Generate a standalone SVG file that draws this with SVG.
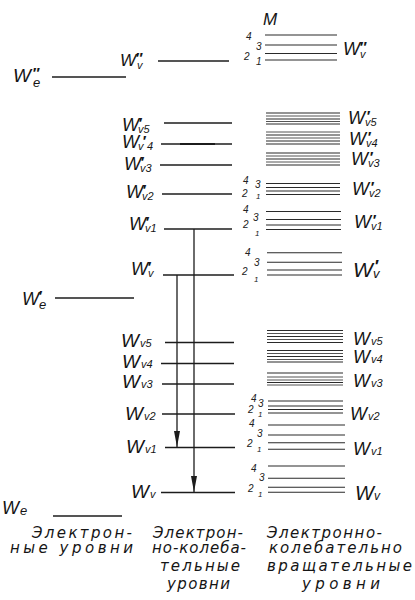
<svg xmlns="http://www.w3.org/2000/svg" width="415" height="600" viewBox="0 0 415 600">
<style>
.bg{fill:#fff}
.lv{stroke:#1c1c1c;stroke-width:1.3;fill:none}
.rl{stroke:#2a2a2a;stroke-width:1.1;fill:none}
.rg{stroke:#555;stroke-width:1;fill:none}
.W{font-family:"Liberation Sans","DejaVu Sans",sans-serif;font-style:italic;font-size:18px;fill:#151515}
.s{font-size:11px}
.p{font-size:15px;font-weight:bold}
.n{font-family:"Liberation Sans","DejaVu Sans",sans-serif;font-style:italic;font-size:10px;fill:#222}
.cap{font-family:"DejaVu Sans","Liberation Sans",sans-serif;font-style:italic;font-size:15px;fill:#151515}
.ar{stroke:#1c1c1c;stroke-width:1.3;fill:none}
</style>
<defs>
<marker id="ah" viewBox="0 0 16 6" refX="16" refY="3" markerWidth="16" markerHeight="6" markerUnits="userSpaceOnUse" orient="auto">
<path d="M0,0 L16,3 L0,6 Z" fill="#1c1c1c"/>
</marker>
</defs>
<rect class="bg" x="0" y="0" width="415" height="600"/>

<!-- Electronic levels -->
<g id="We2">
<line class="lv" x1="52" y1="77" x2="126" y2="77"/>
<text class="W" x="13" y="82" style="font-size:19px">W<tspan class="p" x="32" y="78">″</tspan><tspan x="33" y="87" style="font-size:13px">e</tspan></text>
</g>
<g id="We1">
<line class="lv" x1="55" y1="298" x2="134" y2="298"/>
<text class="W" x="22" y="305">W<tspan class="p" x="38" y="301">′</tspan><tspan x="39" y="309" style="font-size:13px">e</tspan></text>
</g>
<g id="We0">
<line class="lv" x1="53" y1="516" x2="122" y2="516"/>
<text class="W" x="2" y="514">W<tspan x="20" y="515" style="font-size:13px">e</tspan></text>
</g>

<!-- Vibrational levels (middle column) -->
<g id="Wv2-left">
<line class="lv" x1="158" y1="61" x2="229" y2="61"/>
<text class="W" x="120" y="66" style="font-size:17px">W<tspan class="p" x="135" y="63">″</tspan><tspan class="s" x="137" y="69">v</tspan></text>
</g>
<g id="Wv1-5-left">
<line class="lv" x1="164" y1="123" x2="232" y2="123"/>
<text class="W" x="122" y="131">W<tspan class="p" x="138" y="128">′</tspan><tspan class="s" x="138" y="133">v5</tspan></text>
</g>
<g id="Wv1-4-left">
<line class="lv" x1="161" y1="144" x2="232" y2="144"/>
<line x1="180" y1="144" x2="215" y2="144" stroke="#1c1c1c" stroke-width="2.2"/>
<text class="W" x="122" y="148">W<tspan class="s" x="138" y="150">v</tspan><tspan class="p" x="142" y="146">′</tspan><tspan class="s" x="147" y="150">4</tspan></text>
</g>
<g id="Wv1-3-left">
<line class="lv" x1="160" y1="165" x2="232" y2="165"/>
<text class="W" x="124" y="170">W<tspan class="p" x="140" y="167">′</tspan><tspan class="s" x="140" y="172">v3</tspan></text>
</g>
<g id="Wv1-2-left">
<line class="lv" x1="162" y1="194" x2="232" y2="194"/>
<text class="W" x="126" y="198">W<tspan class="p" x="142" y="195">′</tspan><tspan class="s" x="142" y="200">v2</tspan></text>
</g>
<g id="Wv1-1-left">
<line class="lv" x1="164" y1="229" x2="232" y2="229"/>
<text class="W" x="129" y="230">W<tspan class="p" x="145" y="227">′</tspan><tspan class="s" x="145" y="232">v1</tspan></text>
</g>
<g id="Wv1-0-left">
<line class="lv" x1="163" y1="275" x2="234" y2="275"/>
<text class="W" x="131" y="275">W<tspan class="p" x="147" y="272">′</tspan><tspan class="s" x="148" y="277">v</tspan></text>
</g>
<g id="Wv0-5-left">
<line class="lv" x1="165" y1="342.5" x2="234" y2="342.5"/>
<text class="W" x="121" y="347" style="font-size:19px">W<tspan class="s" x="140" y="347">v5</tspan></text>
</g>
<g id="Wv0-4-left">
<line class="lv" x1="161" y1="363.5" x2="234" y2="363.5"/>
<text class="W" x="122" y="368" style="font-size:19px">W<tspan class="s" x="141" y="368">v4</tspan></text>
</g>
<g id="Wv0-3-left">
<line class="lv" x1="162" y1="384" x2="234" y2="384"/>
<text class="W" x="122" y="388" style="font-size:19px">W<tspan class="s" x="141" y="388">v3</tspan></text>
</g>
<g id="Wv0-2-left">
<line class="lv" x1="162" y1="414" x2="235" y2="414"/>
<text class="W" x="125" y="420" style="font-size:19px">W<tspan class="s" x="144" y="420">v2</tspan></text>
</g>
<g id="Wv0-1-left">
<line class="lv" x1="165" y1="447.5" x2="235" y2="447.5"/>
<text class="W" x="126" y="453" style="font-size:19px">W<tspan class="s" x="145" y="453">v1</tspan></text>
</g>
<g id="Wv0-0-left">
<line class="lv" x1="161" y1="492.5" x2="235" y2="492.5"/>
<text class="W" x="131" y="498" style="font-size:19px">W<tspan class="s" x="150" y="498">v</tspan></text>
</g>

<!-- Rotational levels (right column) -->
<text class="W" x="263" y="25" style="font-size:17px">M</text>
<g id="Wv2-right">
<line class="rl" x1="265" y1="35" x2="337" y2="35"/>
<line class="rl" x1="265" y1="45" x2="337" y2="45"/>
<line class="rl" x1="265" y1="53.5" x2="337" y2="53.5"/>
<line class="rl" x1="265" y1="60" x2="337" y2="60"/>
<text class="n" x="246" y="40">4</text><text class="n" x="256" y="50">3</text><text class="n" x="244" y="60">2</text><text class="n" x="256" y="65">1</text>
<text class="W" x="343" y="55">W<tspan class="p" x="359" y="52">″</tspan><tspan class="s" x="360" y="58">v</tspan></text>
</g>
<g id="Wv1-5-right">
<line class="rl" x1="266" y1="113" x2="340" y2="113"/>
<line class="rg" x1="266" y1="116" x2="340" y2="116"/>
<line class="rl" x1="266" y1="119" x2="340" y2="119"/>
<line class="rg" x1="266" y1="121.5" x2="340" y2="121.5"/>
<line class="rl" x1="266" y1="124" x2="340" y2="124"/>
<text class="W" x="348" y="124">W<tspan class="p" x="366" y="121">′</tspan><tspan class="s" x="365" y="126">v5</tspan></text>
</g>
<g id="Wv1-4-right">
<line class="rg" x1="266" y1="132" x2="340" y2="132"/>
<line class="rl" x1="266" y1="135" x2="340" y2="135"/>
<line class="rg" x1="266" y1="138" x2="340" y2="138"/>
<line class="rl" x1="266" y1="141" x2="340" y2="141"/>
<line class="rl" x1="266" y1="144" x2="340" y2="144"/>
<text class="W" x="349" y="145">W<tspan class="p" x="367" y="142">′</tspan><tspan class="s" x="366" y="147">v4</tspan></text>
</g>
<g id="Wv1-3-right">
<line class="rl" x1="266" y1="153" x2="340" y2="153"/>
<line class="rg" x1="266" y1="156" x2="340" y2="156"/>
<line class="rl" x1="266" y1="159" x2="340" y2="159"/>
<line class="rg" x1="266" y1="162" x2="340" y2="162"/>
<line class="rl" x1="266" y1="165" x2="340" y2="165"/>
<text class="W" x="351" y="165">W<tspan class="p" x="369" y="162">′</tspan><tspan class="s" x="368" y="167">v3</tspan></text>
</g>
<g id="Wv1-2-right">
<line class="rl" x1="266" y1="183.5" x2="340" y2="183.5"/>
<line class="rl" x1="266" y1="187.5" x2="340" y2="187.5"/>
<line class="rl" x1="266" y1="191" x2="340" y2="191"/>
<line class="rl" x1="266" y1="194.5" x2="340" y2="194.5"/>
<text class="n" x="243" y="184">4</text><text class="n" x="255" y="188">3</text><text class="n" x="242" y="197">2</text><text class="n" x="256" y="199" style="font-size:8px">1</text>
<text class="W" x="352" y="195">W<tspan class="p" x="370" y="192">′</tspan><tspan class="s" x="369" y="197">v2</tspan></text>
</g>
<g id="Wv1-1-right">
<line class="rl" x1="266" y1="211.5" x2="341" y2="211.5"/>
<line class="rl" x1="266" y1="219.5" x2="341" y2="219.5"/>
<line class="rl" x1="266" y1="225" x2="341" y2="225"/>
<line class="rl" x1="266" y1="229.5" x2="341" y2="229.5"/>
<text class="n" x="243" y="213">4</text><text class="n" x="253" y="221">3</text><text class="n" x="243" y="228">2</text><text class="n" x="255" y="236" style="font-size:8px">1</text>
<text class="W" x="354" y="228">W<tspan class="p" x="372" y="225">′</tspan><tspan class="s" x="371" y="230">v1</tspan></text>
</g>
<g id="Wv1-0-right">
<line class="rl" x1="267" y1="252.7" x2="342" y2="252.7"/>
<line class="rl" x1="267" y1="262.3" x2="342" y2="262.3"/>
<line class="rl" x1="267" y1="270" x2="342" y2="270"/>
<line class="rl" x1="267" y1="275" x2="342" y2="275"/>
<text class="n" x="245" y="256">4</text><text class="n" x="254" y="266">3</text><text class="n" x="242" y="275">2</text><text class="n" x="254" y="282" style="font-size:8px">1</text>
<text class="W" x="353" y="277" style="font-size:21px">W<tspan class="p" x="374" y="272" style="font-size:17px">′</tspan><tspan x="373" y="278" style="font-size:13px">v</tspan></text>
</g>
<g id="Wv0-5-right">
<line class="rl" x1="267" y1="330.5" x2="343" y2="330.5"/>
<line class="rg" x1="267" y1="333.5" x2="343" y2="333.5"/>
<line class="rl" x1="267" y1="336.5" x2="343" y2="336.5"/>
<line class="rg" x1="267" y1="339.5" x2="343" y2="339.5"/>
<line class="rl" x1="267" y1="342.5" x2="343" y2="342.5"/>
<text class="W" x="353" y="345">W<tspan class="s" x="371" y="345">v5</tspan></text>
</g>
<g id="Wv0-4-right">
<line class="rl" x1="267" y1="350.5" x2="343" y2="350.5"/>
<line class="rg" x1="267" y1="353.5" x2="343" y2="353.5"/>
<line class="rl" x1="267" y1="356.5" x2="343" y2="356.5"/>
<line class="rg" x1="267" y1="359.5" x2="343" y2="359.5"/>
<line class="rl" x1="267" y1="362" x2="343" y2="362"/>
<text class="W" x="353" y="363">W<tspan class="s" x="371" y="363">v4</tspan></text>
</g>
<g id="Wv0-3-right">
<line class="rl" x1="267" y1="373" x2="343" y2="373"/>
<line class="rg" x1="267" y1="377" x2="343" y2="377"/>
<line class="rg" x1="267" y1="380" x2="343" y2="380"/>
<line class="rl" x1="267" y1="382.5" x2="343" y2="382.5"/>
<line class="rg" x1="267" y1="385" x2="343" y2="385"/>
<text class="W" x="353" y="387">W<tspan class="s" x="371" y="387">v3</tspan></text>
</g>
<g id="Wv0-2-right">
<line class="rl" x1="268" y1="401" x2="343" y2="401"/>
<line class="rl" x1="268" y1="406" x2="343" y2="406"/>
<line class="rl" x1="268" y1="409.5" x2="343" y2="409.5"/>
<line class="rl" x1="268" y1="413" x2="343" y2="413"/>
<text class="n" x="251" y="402">4</text><text class="n" x="258" y="407">3</text><text class="n" x="248" y="413">2</text><text class="n" x="258" y="417" style="font-size:8px">1</text>
<text class="W" x="350" y="420">W<tspan class="s" x="368" y="420">v2</tspan></text>
</g>
<g id="Wv0-1-right">
<line class="rl" x1="268" y1="425" x2="345" y2="425"/>
<line class="rl" x1="268" y1="435" x2="345" y2="435"/>
<line class="rl" x1="268" y1="442.7" x2="345" y2="442.7"/>
<line class="rl" x1="268" y1="449.3" x2="345" y2="449.3"/>
<text class="n" x="249" y="427">4</text><text class="n" x="257" y="437">3</text><text class="n" x="247" y="447">2</text><text class="n" x="257" y="452" style="font-size:8px">1</text>
<text class="W" x="353" y="455">W<tspan class="s" x="371" y="455">v1</tspan></text>
</g>
<g id="Wv0-0-right">
<line class="rl" x1="268" y1="466" x2="345" y2="466"/>
<line class="rl" x1="268" y1="478.3" x2="345" y2="478.3"/>
<line class="rl" x1="268" y1="487.3" x2="345" y2="487.3"/>
<line class="rl" x1="268" y1="492.3" x2="345" y2="492.3"/>
<text class="n" x="251" y="472">4</text><text class="n" x="259" y="481">3</text><text class="n" x="248" y="492">2</text><text class="n" x="258" y="497" style="font-size:8px">1</text>
<text class="W" x="355" y="500" style="font-size:20px">W<tspan class="s" x="374" y="500" style="font-size:12px">v</tspan></text>
</g>

<!-- Transitions -->
<g id="connectors">
<line class="ar" x1="177" y1="275" x2="177" y2="447" marker-end="url(#ah)"/>
<line class="ar" x1="194" y1="229" x2="194" y2="492" marker-end="url(#ah)"/>
</g>

<!-- Captions -->
<g id="captions">
<text class="cap" x="32" y="538" textLength="100" lengthAdjust="spacing">Электрон-</text>
<text class="cap" x="10" y="553" textLength="123" lengthAdjust="spacing">ные уровни</text>
<text class="cap" x="153" y="538" textLength="90" lengthAdjust="spacing">Электрон-</text>
<text class="cap" x="152" y="553" textLength="94" lengthAdjust="spacing">но-колеба-</text>
<text class="cap" x="160" y="571" textLength="80" lengthAdjust="spacing">тельные</text>
<text class="cap" x="167" y="589" textLength="63" lengthAdjust="spacing">уровни</text>
<text class="cap" x="267" y="538" textLength="115" lengthAdjust="spacing">Электронно-</text>
<text class="cap" x="269" y="553" textLength="133" lengthAdjust="spacing">колебательно</text>
<text class="cap" x="267" y="571" textLength="145" lengthAdjust="spacing">вращательные</text>
<text class="cap" x="302" y="589" textLength="78" lengthAdjust="spacing">уровни</text>
</g>
</svg>
